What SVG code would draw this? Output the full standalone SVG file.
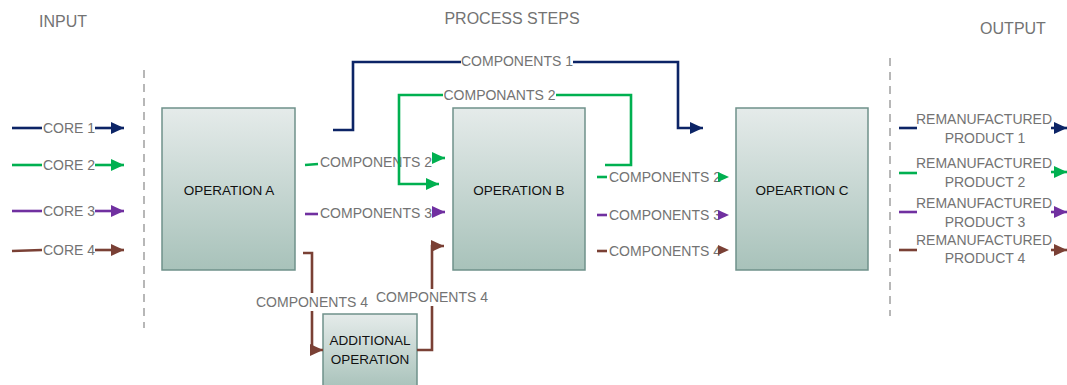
<svg xmlns="http://www.w3.org/2000/svg" width="1067" height="385" viewBox="0 0 1067 385">
<style>
.t{font-family:"Liberation Sans",Arial,sans-serif;font-size:14px;fill:#737373}
.h{font-family:"Liberation Sans",Arial,sans-serif;font-size:16px;fill:#737373}
.b{font-family:"Liberation Sans",Arial,sans-serif;font-size:13.5px;fill:#111;text-anchor:middle}
.box{fill:url(#g);stroke:#6f918a;stroke-width:1.5}
.c{fill:none;stroke-width:2.6}
.nv{stroke:#0c2466}.gr{stroke:#00b050}.pu{stroke:#7030a0}.br{stroke:#7a4035}
.dash{stroke:#a0a0a0;stroke-width:1.5;stroke-dasharray:8 6}
.bg{fill:#fff}
</style>
<defs>
<linearGradient id="g" x1="0" y1="0" x2="0" y2="1">
<stop offset="0" stop-color="#e5ebea"/><stop offset="1" stop-color="#a8c2ba"/>
</linearGradient>
<marker id="anv" markerUnits="userSpaceOnUse" markerWidth="13" markerHeight="12" refX="13" refY="6" orient="auto"><path d="M0,0 L13,6 L0,12 z" fill="#0c2466"/></marker>
<marker id="agr" markerUnits="userSpaceOnUse" markerWidth="13" markerHeight="12" refX="13" refY="6" orient="auto"><path d="M0,0 L13,6 L0,12 z" fill="#00b050"/></marker>
<marker id="apu" markerUnits="userSpaceOnUse" markerWidth="13" markerHeight="12" refX="13" refY="6" orient="auto"><path d="M0,0 L13,6 L0,12 z" fill="#7030a0"/></marker>
<marker id="abr" markerUnits="userSpaceOnUse" markerWidth="13" markerHeight="12" refX="13" refY="6" orient="auto"><path d="M0,0 L13,6 L0,12 z" fill="#7a4035"/></marker>
<marker id="sgr" markerUnits="userSpaceOnUse" markerWidth="11" markerHeight="10" refX="11" refY="5" orient="auto"><path d="M0,0 L11,5 L0,10 z" fill="#00b050"/></marker>
<marker id="spu" markerUnits="userSpaceOnUse" markerWidth="11" markerHeight="10" refX="11" refY="5" orient="auto"><path d="M0,0 L11,5 L0,10 z" fill="#7030a0"/></marker>
<marker id="sbr" markerUnits="userSpaceOnUse" markerWidth="11" markerHeight="10" refX="11" refY="5" orient="auto"><path d="M0,0 L11,5 L0,10 z" fill="#7a4035"/></marker>
</defs>
<rect width="1067" height="385" fill="#fff"/>
<g id="headers">
<text class="h" x="39" y="27">INPUT</text>
<text class="h" x="512" y="24" text-anchor="middle">PROCESS STEPS</text>
<text class="h" x="1013" y="34" text-anchor="middle">OUTPUT</text>
<line class="dash" x1="144" y1="70" x2="144" y2="328"/>
<line class="dash" x1="890" y1="58" x2="890" y2="316"/>
</g>
<g id="opA"><rect class="box" x="162" y="108" width="133" height="162"/><text class="b" x="229" y="195">OPERATION A</text></g>
<g id="opB"><rect class="box" x="453" y="108" width="132" height="162"/><text class="b" x="519" y="195">OPERATION B</text></g>
<g id="opC"><rect class="box" x="736" y="108" width="132" height="162"/><text class="b" x="802" y="195">OPEARTION C</text></g>
<g id="addOp"><rect class="box" x="323" y="314" width="94" height="75"/><text class="b" x="370" y="345">ADDITIONAL</text><text class="b" x="370" y="364">OPERATION</text></g>
<g id="connectors">
<path class="c nv" d="M12 128 H42"/><path class="c nv" d="M95 128 H124" marker-end="url(#anv)"/><text class="t" x="43" y="133">CORE 1</text>
<path class="c gr" d="M12 165 H42"/><path class="c gr" d="M95 165 H124" marker-end="url(#agr)"/><text class="t" x="43" y="170">CORE 2</text>
<path class="c pu" d="M12 211 H42"/><path class="c pu" d="M95 211 H124" marker-end="url(#apu)"/><text class="t" x="43" y="216">CORE 3</text>
<path class="c br" d="M12 251 L42 250"/><path class="c br" d="M95 250 H124" marker-end="url(#abr)"/><text class="t" x="43" y="255">CORE 4</text>
<path class="c gr" d="M305 165 L318 164"/><text class="t" x="320" y="167">COMPONENTS 2</text><path class="c gr" d="M433 158 H445" marker-end="url(#agr)"/>
<path class="c pu" d="M305 214 H318"/><text class="t" x="320" y="218">COMPONENTS 3</text><path class="c pu" d="M433 212 H445" marker-end="url(#apu)"/>
<path class="c br" d="M303 253 H312 V350 H323" marker-end="url(#abr)"/>
<rect class="bg" x="256" y="293" width="112" height="18"/><text class="t" x="312" y="307" text-anchor="middle">COMPONENTS 4</text>
<path class="c br" d="M417 350 H432 V246 H444" marker-end="url(#abr)"/>
<rect class="bg" x="376" y="289" width="112" height="17"/><text class="t" x="376" y="302">COMPONENTS 4</text>
<path class="c nv" d="M333 130 H353 V62 H678 V128 H703" marker-end="url(#anv)"/>
<rect class="bg" x="461" y="53" width="112" height="17"/><text class="t" x="517" y="66" text-anchor="middle">COMPONENTS 1</text>
<path class="c gr" d="M605 165 H631 V95 H399 V184 H439" marker-end="url(#agr)"/>
<rect class="bg" x="443" y="86" width="113" height="17"/><text class="t" x="499.5" y="100" text-anchor="middle">COMPONANTS 2</text>
<path class="c gr" d="M597 177 H607"/><text class="t" x="609" y="182" font-size="13.6">COMPONENTS 2</text><path d="M724 177 H729" stroke="none" fill="none" marker-end="url(#sgr)"/>
<path class="c pu" d="M597 215 H607"/><text class="t" x="609" y="220" font-size="13.6">COMPONENTS 3</text><path d="M724 215 H729" stroke="none" fill="none" marker-end="url(#spu)"/>
<path class="c br" d="M597 251 H607"/><text class="t" x="609" y="256" font-size="13.6">COMPONENTS 4</text><path d="M724 250 H729" stroke="none" fill="none" marker-end="url(#sbr)"/>
<path class="c nv" d="M899 128 H917"/><path class="c nv" d="M1051 128 H1067" marker-end="url(#anv)"/>
<text class="t" x="984" y="124" text-anchor="middle" font-size="13.5">REMANUFACTURED</text><text class="t" x="985" y="143" text-anchor="middle" font-size="13.5">PRODUCT 1</text>
<path class="c gr" d="M899 173 H917"/><path class="c gr" d="M1051 172 H1067" marker-end="url(#agr)"/>
<text class="t" x="984" y="168" text-anchor="middle" font-size="13.5">REMANUFACTURED</text><text class="t" x="985" y="187" text-anchor="middle" font-size="13.5">PRODUCT 2</text>
<path class="c pu" d="M899 212 H917"/><path class="c pu" d="M1051 212 H1067" marker-end="url(#apu)"/>
<text class="t" x="984" y="208" text-anchor="middle" font-size="13.5">REMANUFACTURED</text><text class="t" x="985" y="227" text-anchor="middle" font-size="13.5">PRODUCT 3</text>
<path class="c br" d="M899 250 H917"/><path class="c br" d="M1051 250 H1067" marker-end="url(#abr)"/>
<text class="t" x="984" y="245" text-anchor="middle" font-size="13.5">REMANUFACTURED</text><text class="t" x="985" y="263" text-anchor="middle" font-size="13.5">PRODUCT 4</text>
</g>
</svg>
